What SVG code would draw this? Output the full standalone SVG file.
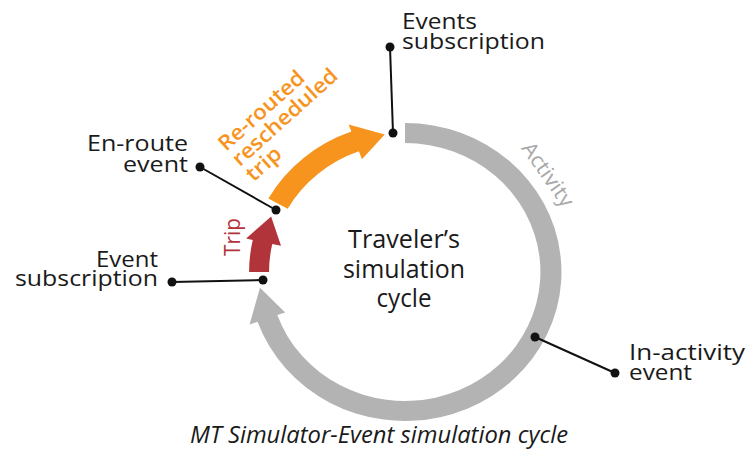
<svg xmlns="http://www.w3.org/2000/svg" width="748" height="459" viewBox="0 0 748 459">
<style>
 .t{font-family:"Open Sans","Liberation Sans",sans-serif;fill:#1a1a1a}
 .lbl{font-size:21px}
 .ctr{font-size:25px;text-anchor:middle}
 .cap{font-size:23px;font-style:italic}
 .end{text-anchor:end}
 .org{fill:#f7941d;font-weight:600}
 .ln{stroke:#111;stroke-width:2;fill:none}
 .dot{fill:#111}
</style>
<rect width="748" height="459" fill="#ffffff"/>

<g transform="translate(405,272) scale(1.05,1)">
 <g id="activity-arc">
  <path fill="#b3b3b3" d="M0,-149 A149,149 0 1 1 -140.45,49.74 L-148.0,52.4 L-138.1,15.7 L-114.1,40.4 L-121.6,43.1 A129,129 0 1 0 0,-129 Z"/>
 </g>
 <g id="rerouted-trip-arrow">
  <path fill="#f7941d" d="M-130.1,-73.6 A149.5,149.5 0 0 1 -51.1,-140.5 L-53.7,-147.5 L-19.3,-137.6 L-41.0,-112.8 L-43.9,-120.8 A128.5,128.5 0 0 0 -111.8,-63.3 Z"/>
 </g>
 <g id="trip-arrow">
  <path fill="#b2343b" d="M-148.5,0 A148.5,148.5 0 0 1 -145.0,-32.1 L-151.3,-33.5 L-127.5,-55.4 L-118.1,-26.2 L-126.4,-28.0 A129.5,129.5 0 0 0 -129.5,0 Z"/>
 </g>
</g>

<g id="arc-labels">
 <text class="t" transform="translate(547,175) rotate(55)" x="0" y="6" font-size="21" text-anchor="middle" style="fill:#a8a8a8" textLength="74" lengthAdjust="spacingAndGlyphs">Activity</text>
 <text class="t" transform="translate(240,256) rotate(-90)" font-size="22" style="fill:#b2343b" textLength="38" lengthAdjust="spacingAndGlyphs">Trip</text>
 <g transform="translate(226,152) rotate(-42)" font-size="21">
  <text class="t org" x="0" y="0" textLength="108" lengthAdjust="spacingAndGlyphs">Re-routed</text>
  <text class="t org" x="0" y="20.5" textLength="134" lengthAdjust="spacingAndGlyphs">rescheduled</text>
  <text class="t org" x="0" y="41" textLength="40" lengthAdjust="spacingAndGlyphs">trip</text>
 </g>
</g>

<g id="center">
 <text class="t ctr" x="404" y="248" textLength="112" lengthAdjust="spacingAndGlyphs">Traveler’s</text>
 <text class="t ctr" x="404" y="278" textLength="122" lengthAdjust="spacingAndGlyphs">simulation</text>
 <text class="t ctr" x="404" y="307" textLength="55" lengthAdjust="spacingAndGlyphs">cycle</text>
</g>

<g id="events-subscription">
 <text class="t lbl" x="402" y="29" textLength="75" lengthAdjust="spacingAndGlyphs">Events</text>
 <text class="t lbl" x="402" y="49" textLength="143" lengthAdjust="spacingAndGlyphs">subscription</text>
</g>
<g id="en-route-event">
 <text class="t lbl end" x="188" y="151" textLength="101" lengthAdjust="spacingAndGlyphs">En-route</text>
 <text class="t lbl end" x="188" y="172" textLength="65" lengthAdjust="spacingAndGlyphs">event</text>
</g>
<g id="event-subscription">
 <text class="t lbl end" x="158" y="267" textLength="62" lengthAdjust="spacingAndGlyphs">Event</text>
 <text class="t lbl end" x="158" y="286" textLength="143" lengthAdjust="spacingAndGlyphs">subscription</text>
</g>
<g id="in-activity-event">
 <text class="t lbl" x="629" y="360" textLength="116" lengthAdjust="spacingAndGlyphs">In-activity</text>
 <text class="t lbl" x="629" y="380" textLength="63" lengthAdjust="spacingAndGlyphs">event</text>
</g>

<g id="connectors">
 <line class="ln" x1="390" y1="47" x2="393" y2="133"/>
 <circle class="dot" cx="390" cy="47" r="4.5"/>
 <circle class="dot" cx="393" cy="133" r="4.5"/>
 <line class="ln" x1="200" y1="167" x2="276" y2="210"/>
 <circle class="dot" cx="200" cy="167" r="4.5"/>
 <circle class="dot" cx="276" cy="210" r="4.5"/>
 <line class="ln" x1="172" y1="282" x2="263" y2="280"/>
 <circle class="dot" cx="172" cy="282" r="4.5"/>
 <circle class="dot" cx="263" cy="280" r="4.5"/>
 <line class="ln" x1="535" y1="337" x2="615" y2="373"/>
 <circle class="dot" cx="535" cy="337" r="4.5"/>
 <circle class="dot" cx="615" cy="373" r="4.5"/>
</g>

<g id="caption">
 <text class="t cap" x="190" y="443" textLength="378" lengthAdjust="spacingAndGlyphs">MT Simulator-Event simulation cycle</text>
</g>
</svg>
